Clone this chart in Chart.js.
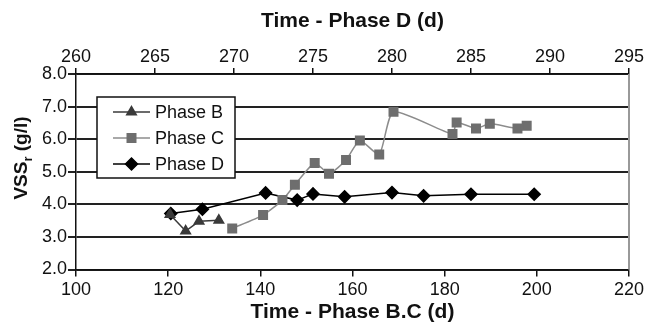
<!DOCTYPE html>
<html lang="en">
<head>
    <meta charset="UTF-8">
    <title>VSSr by phase</title>
    <script src="https://cdn.jsdelivr.net/npm/chart.js"></script>
    <style>
        html, body { margin: 0; padding: 0; background: #fff; }
        #wrap { width: 647px; height: 322px; position: relative; }
    </style>
</head>
<body>
<div id="wrap"><canvas id="grafica"></canvas></div>

<script>
    // datos
    const phaseBDays = [120.4, 123.8, 126.7, 131.0];
    const phaseBVss  = [3.69, 3.18, 3.48, 3.51];

    const phaseCDays = [133.9, 140.6, 144.8, 147.5, 151.8, 154.9, 158.6, 161.6, 165.8, 168.9, 181.7, 182.6, 186.8, 189.8, 195.8, 197.8];
    const phaseCVss  = [3.26, 3.67, 4.13, 4.60, 5.27, 4.94, 5.36, 5.96, 5.53, 6.84, 6.16, 6.51, 6.33, 6.47, 6.33, 6.41];

    const phaseDDays = [266, 268, 272, 274, 275, 277, 280, 282, 285, 289];
    const phaseDVss  = [3.72, 3.85, 4.35, 4.13, 4.32, 4.23, 4.36, 4.26, 4.31, 4.31];

    const seriesNames = ['Phase B', 'Phase C', 'Phase D'];

    const toPoints = (xs, ys) => xs.map((x, i) => ({ x: x, y: ys[i] }));
    const FONT = 'Liberation Sans, Arial, sans-serif';

    // leyenda dibujada a mano (caja con borde)
    const legendBox = {
        id: 'legendBox',
        afterDraw(chart) {
            const ctx = chart.ctx;
            ctx.save();
            ctx.fillStyle = '#fff';
            ctx.fillRect(97, 97, 138, 81);
            ctx.strokeStyle = '#111';
            ctx.lineWidth = 1.5;
            ctx.strokeRect(97, 97, 138, 81);
            chart.data.datasets.forEach((ds, i) => {
                const y = 112 + 26 * i;
                ctx.strokeStyle = ds.borderColor;
                ctx.lineWidth = ds.borderWidth;
                ctx.beginPath();
                ctx.moveTo(113, y);
                ctx.lineTo(150, y);
                ctx.stroke();
                ctx.fillStyle = ds.pointBackgroundColor;
                ctx.strokeStyle = ds.pointBorderColor;
                Chart.helpers.drawPoint(ctx, {
                    pointStyle: ds.pointStyle, radius: ds.pointRadius,
                    rotation: 0, borderWidth: 1
                }, 131.5, y);
                ctx.fillStyle = '#111';
                ctx.font = '18px ' + FONT;
                ctx.textBaseline = 'middle';
                ctx.textAlign = 'left';
                ctx.fillText(ds.label, 155, y + 1);
            });
            ctx.restore();
        }
    };

    // titulo del eje y con subindice y borde derecho gris
    const extras = {
        id: 'extras',
        beforeDatasetsDraw(chart) {
            const a = chart.chartArea;
            const ctx = chart.ctx;
            ctx.save();
            ctx.strokeStyle = '#999';
            ctx.lineWidth = 2;
            ctx.beginPath();
            ctx.moveTo(a.right, a.top);
            ctx.lineTo(a.right, a.bottom);
            ctx.stroke();
            ctx.restore();
        },
        afterDraw(chart) {
            const ctx = chart.ctx;
            ctx.save();
            ctx.translate(22, 158);
            ctx.rotate(-Math.PI / 2);
            ctx.fillStyle = '#111';
            ctx.textBaseline = 'middle';
            const big = 'bold 19px ' + FONT;
            const small = 'bold 13px ' + FONT;
            ctx.font = big;
            const w1 = ctx.measureText('VSS').width;
            const w3 = ctx.measureText(' (g/l)').width;
            ctx.font = small;
            const w2 = ctx.measureText('r').width;
            let x = -(w1 + w2 + w3) / 2;
            ctx.textAlign = 'left';
            ctx.font = big;
            ctx.fillText('VSS', x, 0);
            x += w1;
            ctx.font = small;
            ctx.fillText('r', x, 6);
            x += w2;
            ctx.font = big;
            ctx.fillText(' (g/l)', x, 0);
            ctx.restore();
        }
    };

    const config = {
        type: 'scatter',
        data: {
            datasets: [{
                label: seriesNames[0],
                data: toPoints(phaseBDays, phaseBVss),
                xAxisID: 'x',
                borderColor: '#3a3a3a',
                backgroundColor: '#3a3a3a',
                pointBackgroundColor: '#3a3a3a',
                pointBorderColor: '#3a3a3a',
                borderWidth: 1.5,
                pointStyle: 'triangle',
                pointRadius: 5.5,
                showLine: true,
                tension: 0
            },
            {
                label: seriesNames[1],
                data: toPoints(phaseCDays, phaseCVss),
                xAxisID: 'x',
                borderColor: '#8c8c8c',
                backgroundColor: '#6e6e6e',
                pointBackgroundColor: '#6e6e6e',
                pointBorderColor: '#6e6e6e',
                borderWidth: 1.5,
                pointStyle: 'rect',
                pointRadius: 6,
                showLine: true,
                tension: 0.2
            },
            {
                label: seriesNames[2],
                data: toPoints(phaseDDays, phaseDVss),
                xAxisID: 'x2',
                borderColor: '#000',
                backgroundColor: '#000',
                pointBackgroundColor: '#000',
                pointBorderColor: '#000',
                borderWidth: 1.5,
                pointStyle: 'rectRot',
                pointRadius: 6,
                showLine: true,
                tension: 0
            }]
        },
        options: {
            responsive: false,
            animation: false,
            layout: { padding: { left: 0, right: 17, top: 0, bottom: 0 } },
            plugins: {
                legend: { display: false },
                tooltip: { enabled: false }
            },
            scales: {
                x: {
                    type: 'linear',
                    position: 'bottom',
                    min: 100,
                    max: 220,
                    ticks: { stepSize: 20, color: '#111', font: { family: FONT, size: 18 }, padding: 3, maxRotation: 0 },
                    grid: { drawOnChartArea: false, color: '#111', tickLength: 7, lineWidth: 1.5 },
                    border: { color: '#111', width: 1.5 },
                    title: { display: true, text: 'Time - Phase B.C (d)', color: '#111',
                             font: { family: FONT, size: 21, weight: 'bold' }, padding: { top: 0, bottom: -3 } },
                    afterFit(s) { s.height = 52.5; }
                },
                x2: {
                    type: 'linear',
                    position: 'top',
                    min: 260,
                    max: 295,
                    ticks: { stepSize: 5, color: '#111', font: { family: FONT, size: 18 }, padding: 0, maxRotation: 0 },
                    grid: { drawOnChartArea: false, color: '#111', tickLength: 6, lineWidth: 1.5 },
                    border: { color: '#111', width: 1.5 },
                    title: { display: true, text: 'Time - Phase D (d)', color: '#111',
                             font: { family: FONT, size: 21, weight: 'bold' }, padding: { top: 9, bottom: 0 } },
                    afterFit(s) { s.height = 74; }
                },
                y: {
                    min: 2,
                    max: 8,
                    ticks: { stepSize: 1, color: '#111', font: { family: FONT, size: 18 }, padding: 1,
                             callback: v => v.toFixed(1) },
                    grid: { color: '#222', lineWidth: 2, tickLength: 8 },
                    border: { color: '#111', width: 1.5 },
                    afterFit(s) { s.width = 76; }
                }
            }
        },
        plugins: [extras, legendBox]
    };

    const ctx = document.getElementById('grafica');
    ctx.width = 647;
    ctx.height = 322;
    new Chart(ctx, config);
</script>
</body>
</html>
